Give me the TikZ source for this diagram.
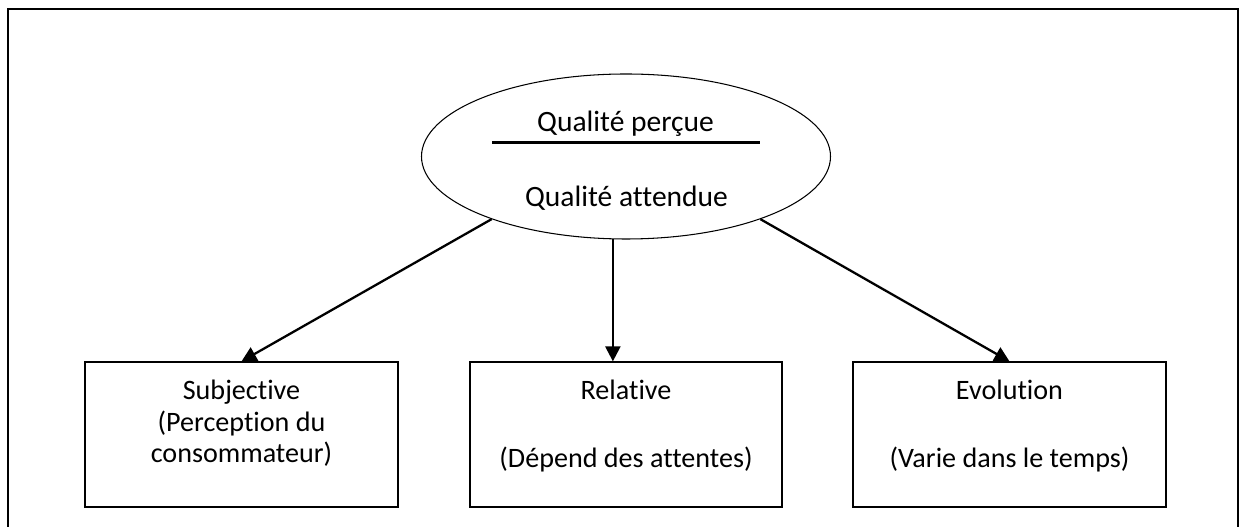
\documentclass[tikz,border=0pt]{standalone}
\usepackage{fontspec}
\setmainfont{Carlito}[Ligatures=NoCommon]
\usepackage{tikz}
\usetikzlibrary{positioning,shapes.geometric,calc,arrows.meta}

\begin{document}
\begin{tikzpicture}
[Oval/.style={ellipse,draw=black,line width=0.6pt,minimum width=81.8mm,minimum height=33mm,inner sep=0pt},
Tag/.style={rectangle,inner sep=0pt,anchor=base,font=\fontsize{16}{19}\selectfont},
BigTag/.style={Tag,font=\fontsize{16.8}{20}\selectfont},
Box/.style={rectangle,draw=black,line width=1.1pt,minimum width=62.5mm,minimum height=28.9mm},
Arrow/.style={line width=1.3pt,-{Triangle[length=8.5pt,width=8.5pt]}}]

\useasboundingbox (0,0) rectangle (24.8,10.54);

% cadre
\draw[line width=1.1pt] (0.16,-0.2) rectangle (24.76,10.36);

% ellipse
\node[Oval] (q) at (12.52,7.41) {};
\node[BigTag] (t1) at (12.51,7.906) {Qualité perçue};
\node[BigTag] (t2) at (12.53,6.406) {Qualité attendue};
\draw[line width=1.7pt] (9.84,7.686) -- (15.2,7.686);

% boites
\node[Box] (b1) at (4.83,1.848) {};
\node[Box] (b2) at (12.52,1.848) {};
\node[Box] (b3) at (20.19,1.848) {};

\node[Tag] (s1) at (4.83,2.548) {Subjective};
\node[Tag] (s2) at (4.83,1.918) {(Perception du};
\node[Tag] (s3) at (4.83,1.294) {consommateur)};
\node[Tag] (r1) at (12.52,2.548) {Relative};
\node[Tag] (r2) at (12.52,1.18) {(Dépend des attentes)};
\node[Tag] (e1) at (20.19,2.548) {Evolution};
\node[Tag] (e2) at (20.19,1.18) {(Varie dans le temps)};

% fleches
\draw[Arrow] (q.205) -- (b1.north);
\draw[Arrow] (q.261) -- (q.261 |- b2.north);
\draw[Arrow] (q.335) -- (b3.north);

\end{tikzpicture}
\end{document}
